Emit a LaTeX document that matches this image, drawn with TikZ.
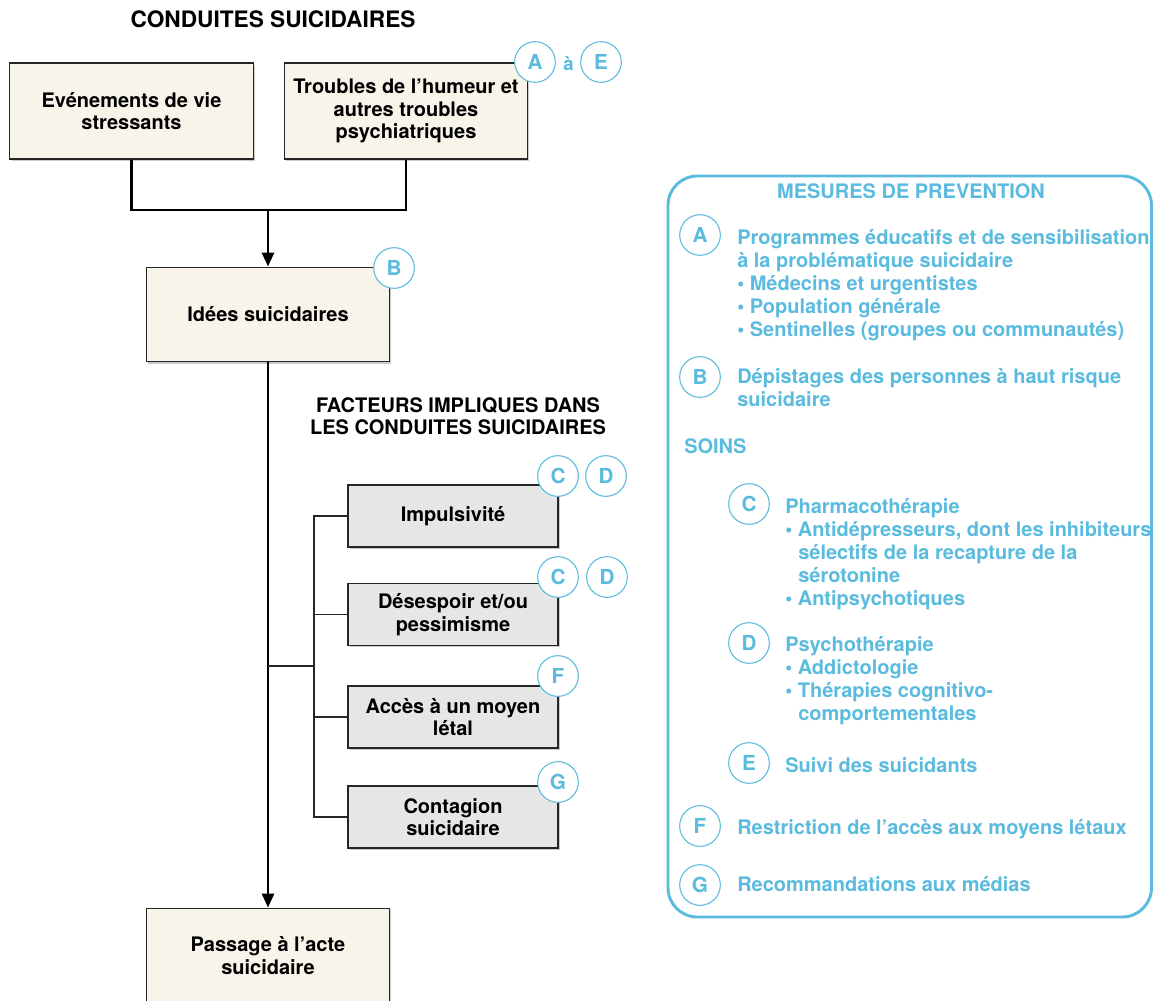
\documentclass[tikz,border=0pt]{standalone}
\usepackage{fontspec}
\setmainfont{TeX Gyre Heros}
\usetikzlibrary{shadows,arrows.meta}
\definecolor{cblue}{RGB}{90,187,222}
\definecolor{cream}{RGB}{248,244,234}
\definecolor{lgray}{RGB}{230,230,230}
\begin{document}
\begin{tikzpicture}[x=0.75pt,y=-0.75pt,
  every node/.style={font=\fontsize{15}{16.8}\selectfont\bfseries},
  basebox/.style={draw=black!85, line width=0.9pt, align=center, inner sep=0pt,
    drop shadow={shadow xshift=1.3pt, shadow yshift=-1.3pt, opacity=0.35, fill=black!60}},
  mainbox/.style={basebox, fill=cream, minimum width=182.5pt, minimum height=71pt},
  greybox/.style={basebox, fill=lgray, minimum width=157.5pt, minimum height=46.5pt},
  lc/.style={circle, draw=cblue, fill=white, line width=0.8pt, minimum size=30.5pt,
    inner sep=0pt, text=cblue, font=\fontsize{15.5}{15.5}\selectfont\bfseries},
  mainline/.style={line width=2pt, black},
  arr/.style={mainline, -{Triangle[length=10.5pt,width=9pt]}},
  brline/.style={line width=0.9pt, black!85},
  ptxt/.style={anchor=base west, inner sep=0pt, text=cblue, font=\fontsize{15}{16}\selectfont\bfseries},
  head/.style={inner sep=0pt, font=\fontsize{17}{19}\selectfont\bfseries},
  head2/.style={inner sep=0pt, font=\fontsize{15}{16}\selectfont\bfseries},
]
\useasboundingbox (0,0) rectangle (1153,1000);

% title
\node[head, anchor=base] (title) at (273,27.5) {CONDUITES SUICIDAIRES};

% main boxes
\node[mainbox, minimum height=72pt] (ev) at (131.5,111) {Evénements de vie\\stressants};
\node[mainbox, minimum height=72pt] (tr) at (406,111) {Troubles de l’humeur et\\autres troubles\\psychiatriques};
\node[mainbox] (id) at (268,314.5) {Idées suicidaires};
\node[mainbox] (pa) at (268,955.5) {Passage à l’acte\\suicidaire};

% circles top
\node[lc] (cA1) at (535,62) {A};
\node[inner sep=0pt, text=cblue, font=\fontsize{14}{14}\selectfont\bfseries] (a1) at (568.5,64) {à};
\node[lc] (cE1) at (601,62) {E};
\node[lc] (cB1) at (394,268) {B};

% connectors
\coordinate (j) at (268,210);
\draw[mainline, line join=miter] (ev.south) -- (ev.south |- j) -- (tr.south |- j) -- (tr.south);
\draw[arr] (j) -- (id.north);
\draw[arr] (id.south) -- (pa.north);

% facteurs
\node[head2, anchor=base] (f1) at (458,412) {FACTEURS IMPLIQUES DANS};
\node[head2, anchor=base] (f2) at (458,434) {LES CONDUITES SUICIDAIRES};

\node[greybox] (g1) at (453,516) {Impulsivité};
\node[greybox] (g2) at (453,614.5) {Désespoir et/ou\\pessimisme};
\node[greybox] (g3) at (453,717) {Accès à un moyen\\létal};
\node[greybox] (g4) at (453,817) {Contagion\\suicidaire};

\coordinate (bj) at (268,666);
\coordinate (bm) at (314,666);
\draw[brline] (g1.west) -- (g1.west -| bm) -- (g4.west -| bm) -- (g4.west);
\draw[brline] (g2.west) -- (g2.west -| bm);
\draw[brline] (g3.west) -- (g3.west -| bm);
\draw[brline] (bj) -- (bm);

\node[lc] (cC1) at (558,476) {C};
\node[lc] (cD1) at (606,476) {D};
\node[lc] (cC2) at (558,577) {C};
\node[lc] (cD2) at (607,577) {D};
\node[lc] (cF1) at (558,676) {F};
\node[lc] (cG1) at (558,782) {G};

% right panel
\draw[cblue, line width=2.2pt, rounded corners=22pt] (668,176) rectangle (1151.5,917);
\node[ptxt, anchor=base] (mp) at (911,198) {MESURES DE PREVENTION};

\node[lc] (pA) at (700,235) {A};
\node[ptxt] (tA1) at (737,244) {Programmes éducatifs et de sensibilisation};
\node[ptxt] (tA2) at (737,267) {à la problématique suicidaire};
\node[ptxt] (tA3) at (737,290) {• Médecins et urgentistes};
\node[ptxt] (tA4) at (737,313) {• Population générale};
\node[ptxt] (tA5) at (737,336) {• Sentinelles (groupes ou communautés)};

\node[lc] (pB) at (700,377) {B};
\node[ptxt] (tB1) at (737,383.5) {Dépistages des personnes à haut risque};
\node[ptxt] (tB2) at (737,406) {suicidaire};

\node[ptxt] (soins) at (684,453) {SOINS};

\node[lc] (pC) at (749,504) {C};
\node[ptxt] (tC1) at (785,513) {Pharmacothérapie};
\node[ptxt] (tC2) at (785,536.5) {• Antidépresseurs, dont les inhibiteurs};
\node[ptxt] (tC3) at (798,559) {sélectifs de la recapture de la};
\node[ptxt] (tC4) at (798,582) {sérotonine};
\node[ptxt] (tC5) at (785,605) {• Antipsychotiques};

\node[lc] (pD) at (749,643) {D};
\node[ptxt] (tD1) at (785,651.5) {Psychothérapie};
\node[ptxt] (tD2) at (785,674) {• Addictologie};
\node[ptxt] (tD3) at (785,697) {• Thérapies cognitivo-};
\node[ptxt] (tD4) at (798,720.5) {comportementales};

\node[lc] (pE) at (749,763) {E};
\node[ptxt] (tE1) at (785,772) {Suivi des suicidants};

\node[lc] (pF) at (700,826) {F};
\node[ptxt] (tF1) at (737,834) {Restriction de l’accès aux moyens létaux};

\node[lc] (pG) at (700,885) {G};
\node[ptxt] (tG1) at (737,891) {Recommandations aux médias};
\end{tikzpicture}
\end{document}
